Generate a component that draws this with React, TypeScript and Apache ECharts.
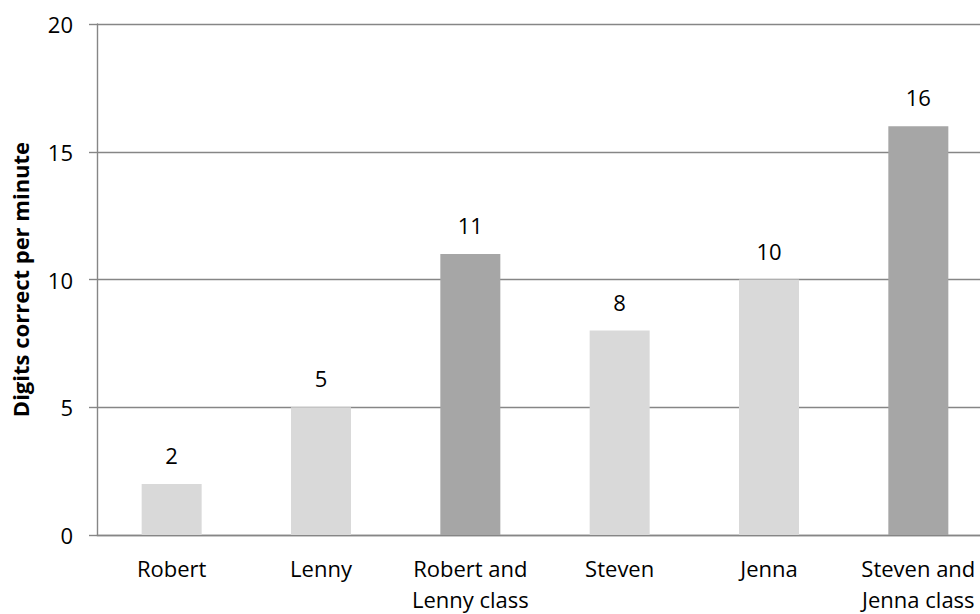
import React, { useEffect, useRef } from "react";
import * as echarts from "echarts";

const categories = [
  "Robert",
  "Lenny",
  "Robert and\nLenny class",
  "Steven",
  "Jenna",
  "Steven and\nJenna class",
];
const values = [2, 5, 11, 8, 10, 16];
const yTicks = [0, 5, 10, 15, 20];
const yAxisTitle = "Digits correct per minute";

const FONT = "'Open Sans', sans-serif";

export default function App() {
  const ref = useRef<HTMLDivElement>(null);
  useEffect(() => {
    if (!ref.current) return;
    const chart = echarts.init(ref.current, undefined, { renderer: "svg" });
    chart.setOption({
      animation: false,
      backgroundColor: "#ffffff",
      textStyle: { fontFamily: FONT },
      grid: { left: 97, top: 24, width: 896, height: 511, containLabel: false },
      xAxis: {
        type: "category",
        data: categories,
        axisLine: { show: true, lineStyle: { color: "#868686", width: 1.4 } },
        axisTick: { show: false },
        axisLabel: {
          fontFamily: FONT,
          fontSize: 22,
          color: "#000",
          lineHeight: 31,
          margin: 17,
          interval: 0,
        },
      },
      yAxis: {
        type: "value",
        min: yTicks[0],
        max: yTicks[yTicks.length - 1],
        interval: yTicks[1] - yTicks[0],
        name: yAxisTitle,
        nameLocation: "middle",
        nameGap: 66,
        nameTextStyle: { fontFamily: FONT, fontSize: 22, fontWeight: "bold", color: "#000" },
        axisLine: { show: true, lineStyle: { color: "#868686", width: 1.4 } },
        axisTick: { show: true, length: 8, lineStyle: { color: "#868686", width: 1.4 } },
        axisLabel: { fontFamily: FONT, fontSize: 22, color: "#000", margin: 24 },
        splitLine: { show: true, lineStyle: { color: "#868686", width: 1.4 } },
      },
      series: [
        {
          type: "bar",
          data: values,
          barWidth: 60,
          itemStyle: {
            color: (p: any) => (String(p.name).includes("class") ? "#a6a6a6" : "#d9d9d9"),
          },
          label: {
            show: true,
            position: "top",
            distance: 18,
            fontFamily: FONT,
            fontSize: 22,
            color: "#000",
          },
        },
      ],
    });
    return () => chart.dispose();
  }, []);
  return (
    <div
      ref={ref}
      style={{ position: "fixed", left: 0, top: 0, width: 1000, height: 614 }}
    />
  );
}
